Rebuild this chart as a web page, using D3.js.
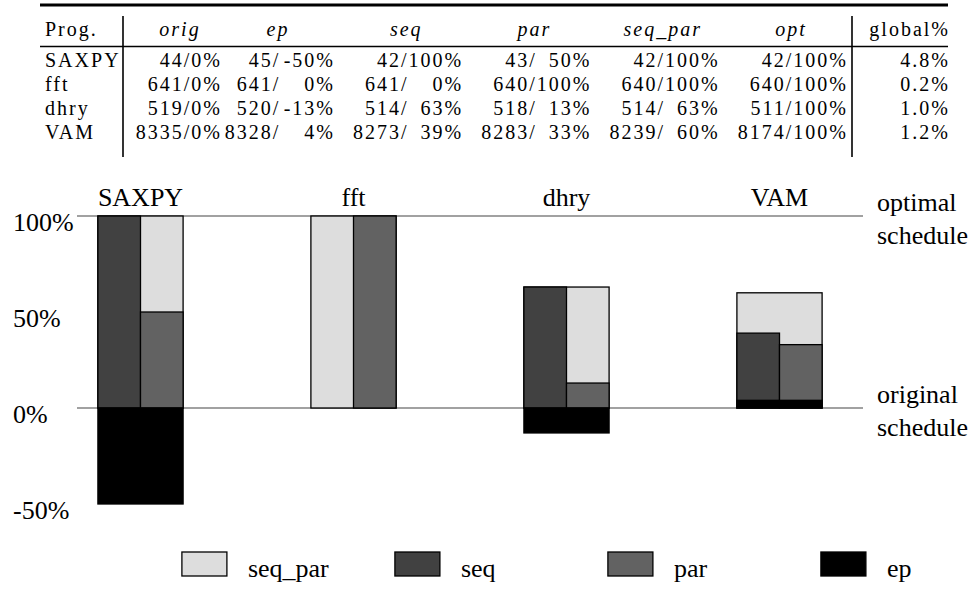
<!DOCTYPE html>
<html>
<head>
<meta charset="utf-8">
<script src="https://cdn.jsdelivr.net/npm/d3@7"></script>
<style>
  body { margin: 0; background: #fff; }
</style>
</head>
<body>
<div id="chart"></div>
<script>
const progs = ["SAXPY", "fft", "dhry", "VAM"];

// cycles / % of possible improvement, per scheduling variant
const origCycles = [44, 641, 519, 8335];
const origPct = [0, 0, 0, 0];
const epCycles = [45, 641, 520, 8328];
const epPct = [-50, 0, -13, 4];
const seqCycles = [42, 641, 514, 8273];
const seqPct = [100, 0, 63, 39];
const parCycles = [43, 640, 518, 8283];
const parPct = [50, 100, 13, 33];
const seqParCycles = [42, 640, 514, 8239];
const seqParPct = [100, 100, 63, 60];
const optCycles = [42, 640, 511, 8174];
const optPct = [100, 100, 100, 100];
const globalPct = [4.8, 0.2, 1.0, 1.2];

const yTicks = [100, 50, 0, -50];
const legendKeys = ["seq_par", "seq", "par", "ep"];
const colors = { seq_par: "#dddddd", seq: "#414141", par: "#626262", ep: "#000000" };

const width = 977, height = 594;
const serif = "'Liberation Serif', 'Times New Roman', serif";

const svg = d3.select("#chart")
  .append("svg")
  .attr("width", width)
  .attr("height", height)
  .attr("font-family", serif);

// ---------- table ----------
const table = svg.append("g").attr("class", "table");
const tfont = 20, tspace = 2;

const cols = [
  { key: "ep", cyc: epCycles, pct: epPct },
  { key: "seq", cyc: seqCycles, pct: seqPct },
  { key: "par", cyc: parCycles, pct: parPct },
  { key: "seq_par", cyc: seqParCycles, pct: seqParPct },
  { key: "opt", cyc: optCycles, pct: optPct }
];

var colEnd = d3.scalePoint().domain(cols.map(c => c.key)).range([333, 846]);
var origEnd = 220;
var rowY = d3.scalePoint().domain(progs).range([67, 139]);

table.append("line")
  .attr("x1", 40).attr("x2", 948).attr("y1", 5).attr("y2", 5)
  .attr("stroke", "#000").attr("stroke-width", 3);
table.append("line")
  .attr("x1", 40).attr("x2", 948).attr("y1", 46.5).attr("y2", 46.5)
  .attr("stroke", "#000").attr("stroke-width", 1.6);
[123, 852].forEach(xv => {
  table.append("line")
    .attr("x1", xv).attr("x2", xv).attr("y1", 16).attr("y2", 157)
    .attr("stroke", "#000").attr("stroke-width", 1.6);
});

function tText(x, y, s, anchor, italic) {
  return table.append("text")
    .attr("x", x).attr("y", y)
    .attr("text-anchor", anchor)
    .attr("font-size", tfont)
    .attr("font-family", serif)
    .attr("letter-spacing", tspace)
    .attr("font-style", italic ? "italic" : "normal")
    .text(s);
}

// header
tText(45, 36, "Prog.", "start", false);
tText(origEnd - 40, 36, "orig", "middle", true);
cols.forEach(c => tText(colEnd(c.key) - 55, 36, c.key, "middle", true));
tText(948 + tspace, 36, "global%", "end", false);

// width of the "100%" field, so the cycle counts line up
var probe = tText(0, -50, "100%", "start", false);
var pctField = probe.node().getComputedTextLength();
probe.remove();

progs.forEach((p, i) => {
  var y = rowY(p);
  tText(45, y, p, "start", false);
  tText(origEnd + tspace, y, origCycles[i] + "/" + origPct[i] + "%", "end", false);
  cols.forEach(c => {
    var xe = colEnd(c.key) + tspace;
    tText(xe, y, c.pct[i] + "%", "end", false);
    tText(xe - pctField, y, c.cyc[i] + "/", "end", false);
  });
  tText(948 + tspace, y, d3.format(".1f")(globalPct[i]) + "%", "end", false);
});

// ---------- bar chart ----------
var y = d3.scaleLinear().domain([-50, 100]).range([504, 216]);
var x = d3.scaleBand()
  .domain(progs)
  .range([34, 886])
  .paddingInner(0.6)
  .paddingOuter(0.3);
var bw = x.bandwidth();
var lfont = 26;

[100, 0].forEach(v => {
  svg.append("line")
    .attr("x1", 77).attr("x2", 863)
    .attr("y1", y(v)).attr("y2", y(v))
    .attr("stroke", "#444").attr("stroke-width", 1.2);
});

svg.selectAll(".ytick")
  .data(yTicks)
  .enter()
  .append("text")
  .attr("class", "ytick")
  .attr("x", 13)
  .attr("y", d => y(d) + 15)
  .attr("font-size", lfont)
  .text(d => d + "%");

svg.append("text").attr("x", 877).attr("y", y(100) - 5).attr("font-size", lfont).text("optimal");
svg.append("text").attr("x", 877).attr("y", y(100) + 28).attr("font-size", lfont).text("schedule");
svg.append("text").attr("x", 877).attr("y", y(0) - 5).attr("font-size", lfont).text("original");
svg.append("text").attr("x", 877).attr("y", y(0) + 28).attr("font-size", lfont).text("schedule");

// seq_par behind the whole group, seq on the left, par on the right, ep across on top
var rects = [];
progs.forEach((p, i) => {
  rects.push({ key: "seq_par", x0: x(p), w: bw, v: seqParPct[i] });
  rects.push({ key: "seq", x0: x(p), w: bw / 2, v: seqPct[i] });
  rects.push({ key: "par", x0: x(p) + bw / 2, w: bw / 2, v: parPct[i] });
  rects.push({ key: "ep", x0: x(p), w: bw, v: epPct[i] });
});

svg.selectAll(".bar")
  .data(rects.filter(d => d.v !== 0))
  .enter()
  .append("rect")
  .attr("class", "bar")
  .attr("x", d => d.x0)
  .attr("y", d => y(Math.max(0, d.v)))
  .attr("width", d => d.w)
  .attr("height", d => Math.abs(y(d.v) - y(0)))
  .attr("fill", d => colors[d.key])
  .attr("stroke", "#000")
  .attr("stroke-width", 1.3);

svg.selectAll(".glabel")
  .data(progs)
  .enter()
  .append("text")
  .attr("class", "glabel")
  .attr("x", d => x(d) + bw / 2)
  .attr("y", 206)
  .attr("text-anchor", "middle")
  .attr("font-size", lfont)
  .text(d => d);

// legend
var legend = svg.selectAll(".legend")
  .data(legendKeys)
  .enter()
  .append("g")
  .attr("class", "legend")
  .attr("transform", (d, i) => "translate(" + (x(progs[i]) + 84) + ",552)");

legend.append("rect")
  .attr("width", 45)
  .attr("height", 24)
  .attr("fill", d => colors[d])
  .attr("stroke", "#000")
  .attr("stroke-width", 1.3);

legend.append("text")
  .attr("x", 66)
  .attr("y", 25)
  .attr("font-size", lfont)
  .text(d => d);
</script>
</body>
</html>
